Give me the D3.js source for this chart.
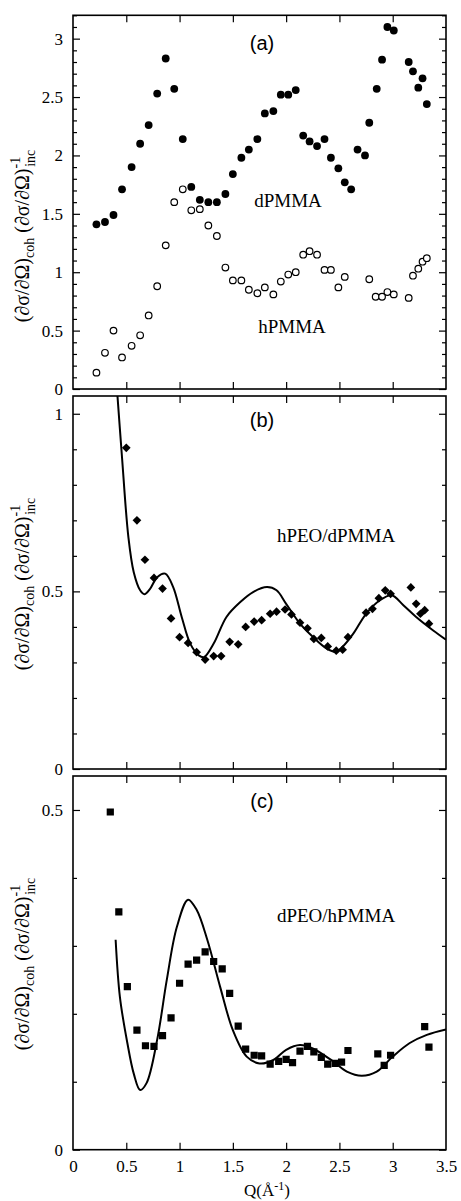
<!DOCTYPE html>
<html lang="en">
<head>
<meta charset="UTF-8">
<title>Scattering ratio panels</title>
<script src="https://d3js.org/d3.v7.min.js"></script>
<style>
    body { margin: 0; background: #fff; }
    svg { display: block; }
    .domain { display: none; }
    .tick line { stroke: #000; stroke-width: 1.2px; }
    .serif { font-family: "Liberation Serif", "DejaVu Serif", serif; }
    .sans { font-family: "Liberation Sans", Arial, sans-serif; }
</style>
</head>
<body>
<svg width="461" height="1201"></svg>
<script>
// panel (a): dPMMA (filled) and hPMMA (open)
const qD = [0.22,0.30,0.38,0.46,0.55,0.63,0.71,0.79,0.87,0.95,1.03,1.11,1.19,1.27,1.35,1.43,1.50,1.58,1.65,1.73,1.80,1.88,1.95,2.02,2.09,2.16,2.22,2.29,2.36,2.42,2.49,2.55,2.61,2.67,2.74,2.78,2.85,2.90,2.95,3.01,3.15,3.19,3.24,3.28,3.32];
const dPMMA = [1.41,1.43,1.49,1.71,1.90,2.10,2.26,2.53,2.83,2.57,2.14,1.73,1.62,1.60,1.60,1.67,1.84,1.98,2.05,2.14,2.36,2.38,2.52,2.52,2.56,2.17,2.12,2.08,2.14,1.98,1.89,1.77,1.71,2.05,2.00,2.28,2.57,2.82,3.10,3.07,2.80,2.72,2.58,2.66,2.44];
const qH = [0.22,0.30,0.38,0.46,0.55,0.63,0.71,0.79,0.87,0.95,1.03,1.11,1.19,1.27,1.35,1.43,1.50,1.58,1.65,1.73,1.80,1.88,1.95,2.02,2.09,2.16,2.22,2.29,2.36,2.42,2.49,2.55,2.78,2.84,2.90,2.95,3.01,3.15,3.19,3.24,3.28,3.32];
const hPMMA = [0.14,0.31,0.50,0.27,0.37,0.46,0.63,0.88,1.23,1.60,1.71,1.53,1.54,1.40,1.31,1.04,0.93,0.93,0.85,0.82,0.87,0.81,0.92,0.98,1.00,1.15,1.18,1.15,1.02,1.02,0.87,0.96,0.94,0.79,0.79,0.83,0.81,0.78,0.97,1.03,1.09,1.12];

// panel (b): hPEO/dPMMA
const qB = [0.50,0.60,0.675,0.76,0.84,0.92,1.00,1.08,1.16,1.24,1.32,1.39,1.47,1.55,1.62,1.70,1.77,1.85,1.91,1.99,2.05,2.13,2.20,2.26,2.33,2.39,2.47,2.53,2.58,2.75,2.81,2.87,2.93,2.98,3.17,3.22,3.26,3.30,3.34];
const hPEO = [0.904,0.70,0.589,0.538,0.508,0.424,0.371,0.355,0.329,0.308,0.318,0.318,0.358,0.351,0.40,0.415,0.419,0.437,0.443,0.449,0.435,0.412,0.396,0.366,0.369,0.345,0.333,0.336,0.371,0.44,0.451,0.481,0.503,0.493,0.511,0.465,0.437,0.447,0.409];
const qBfit = [0.41,0.46,0.52,0.57,0.63,0.67,0.725,0.79,0.865,0.94,1.02,1.10,1.18,1.23,1.32,1.44,1.57,1.69,1.82,1.91,2.00,2.13,2.25,2.38,2.47,2.53,2.63,2.75,2.88,2.99,3.10,3.22,3.38,3.50];
const hPEOfit = [1.08,0.877,0.652,0.554,0.503,0.492,0.508,0.54,0.55,0.512,0.428,0.353,0.32,0.315,0.353,0.428,0.47,0.498,0.512,0.503,0.465,0.409,0.372,0.339,0.33,0.344,0.381,0.437,0.475,0.489,0.461,0.428,0.39,0.364];

// panel (c): dPEO/hPMMA
const qC = [0.35,0.43,0.51,0.60,0.68,0.76,0.84,0.92,1.00,1.08,1.16,1.24,1.32,1.40,1.47,1.55,1.62,1.70,1.77,1.85,1.93,2.00,2.06,2.13,2.20,2.26,2.33,2.39,2.46,2.52,2.58,2.86,2.92,2.98,3.30,3.34];
const dPEO = [0.497,0.350,0.240,0.176,0.153,0.152,0.168,0.194,0.245,0.273,0.279,0.291,0.277,0.266,0.230,0.182,0.148,0.139,0.138,0.126,0.130,0.133,0.128,0.145,0.152,0.144,0.136,0.126,0.127,0.129,0.146,0.141,0.124,0.139,0.181,0.151];
const qCfit = [0.40,0.44,0.51,0.57,0.63,0.69,0.79,0.88,0.975,1.08,1.16,1.26,1.38,1.50,1.63,1.75,1.88,2.00,2.13,2.25,2.44,2.57,2.71,2.85,3.00,3.16,3.32,3.50];
const dPEOfit = [0.309,0.225,0.157,0.112,0.088,0.098,0.162,0.25,0.328,0.368,0.353,0.309,0.24,0.176,0.137,0.127,0.132,0.147,0.154,0.149,0.130,0.115,0.109,0.115,0.137,0.157,0.169,0.177];

const xTicks = [0.5,1,1.5,2,2.5,3];
const xLabels = [0,0.5,1,1.5,2,2.5,3,3.5];

const serif = '"Liberation Serif", "DejaVu Serif", serif';
const svg = d3.select("svg");
const x = d3.scaleLinear().domain([0, 3.5]).range([73, 446]);

const panels = [
    {id: "a", top: 15.3, bottom: 389, ymax: 3.2, major: d3.range(0, 3.01, 0.5), tag: "(a)", tagY: 50, labelY: 236},
    {id: "b", top: 396, bottom: 769, ymax: 1.05, major: [0, 0.5, 1], tag: "(b)", tagY: 427, labelY: 584},
    {id: "c", top: 776, bottom: 1149.7, ymax: 0.55, major: [0, 0.5], tag: "(c)", tagY: 808, labelY: 964}
];

panels.forEach(p => {
    p.y = d3.scaleLinear().domain([0, p.ymax]).range([p.bottom, p.top]);
    const g = svg.append("g");
    const minor = d3.range(0, p.ymax + 1e-9, 0.1).filter(v => !p.major.some(m => Math.abs(m - v) < 1e-6));

    // y ticks, left and right, pointing inward
    g.append("g").attr("transform", "translate(73,0)")
        .call(d3.axisLeft(p.y).tickValues(p.major).tickSize(-7).tickPadding(10).tickFormat(d3.format("~g")))
        .attr("font-family", serif).attr("font-size", 17);
    g.append("g").attr("transform", "translate(73,0)")
        .call(d3.axisLeft(p.y).tickValues(minor).tickSize(-4).tickFormat(""));
    g.append("g").attr("transform", "translate(446,0)")
        .call(d3.axisRight(p.y).tickValues(p.major).tickSize(-7).tickFormat(""));
    g.append("g").attr("transform", "translate(446,0)")
        .call(d3.axisRight(p.y).tickValues(minor).tickSize(-4).tickFormat(""));

    // x ticks top and bottom
    g.append("g").attr("transform", `translate(0,${p.top})`)
        .call(d3.axisTop(x).tickValues(xTicks).tickSize(-7).tickFormat(""));
    g.append("g").attr("transform", `translate(0,${p.bottom})`)
        .call(d3.axisBottom(x).tickValues(xTicks).tickSize(-7).tickFormat(""));

    svg.append("clipPath").attr("id", "clip-" + p.id)
        .append("rect").attr("x", 73).attr("y", p.top).attr("width", 373).attr("height", p.bottom - p.top);

    g.append("rect")
        .attr("x", 73).attr("y", p.top).attr("width", 373).attr("height", p.bottom - p.top)
        .attr("fill", "none").attr("stroke", "#000").attr("stroke-width", 1.6);

    g.append("text").attr("class", "sans")
        .attr("x", 262).attr("y", p.tagY).attr("text-anchor", "middle")
        .attr("font-size", 20).text(p.tag);

    // rotated y-axis label
    const lab = g.append("text").attr("class", "serif")
        .attr("transform", `translate(29,${p.labelY}) rotate(-90)`)
        .attr("text-anchor", "middle").attr("font-size", 20);
    lab.append("tspan").text("(∂σ/∂Ω)");
    lab.append("tspan").attr("font-size", 14).attr("dy", 5).text("coh");
    lab.append("tspan").attr("dy", -5).text(" (∂σ/∂Ω)");
    lab.append("tspan").attr("font-size", 14).attr("dy", -9).text("-1");
    lab.append("tspan").attr("font-size", 14).attr("dx", -10).attr("dy", 15).text("inc");
});

// x-axis labels on the bottom panel only
const pc = panels[2];
svg.append("g").attr("transform", `translate(0,${pc.bottom})`)
    .call(d3.axisBottom(x).tickValues(xLabels).tickSize(0).tickPadding(10).tickFormat(d3.format("~g")))
    .attr("font-family", serif).attr("font-size", 17);

const xt = svg.append("text").attr("class", "serif")
    .attr("x", 267).attr("y", 1196).attr("text-anchor", "middle").attr("font-size", 17);
xt.append("tspan").text("Q(Å");
xt.append("tspan").attr("font-size", 12).attr("dy", -6).text("-1");
xt.append("tspan").attr("dy", 6).text(")");

// panel (a) marks
const ya = panels[0].y;
const ga = svg.append("g").attr("clip-path", "url(#clip-a)");
ga.selectAll(".dp").data(d3.zip(qD, dPMMA)).enter().append("circle")
    .attr("cx", d => x(d[0])).attr("cy", d => ya(d[1])).attr("r", 3.9).attr("fill", "#000");
ga.selectAll(".hp").data(d3.zip(qH, hPMMA)).enter().append("circle")
    .attr("cx", d => x(d[0])).attr("cy", d => ya(d[1])).attr("r", 3.3)
    .attr("fill", "#fff").attr("stroke", "#000").attr("stroke-width", 1.2);
svg.append("text").attr("class", "serif").attr("x", 288).attr("y", 207)
    .attr("text-anchor", "middle").attr("font-size", 19).text("dPMMA");
svg.append("text").attr("class", "serif").attr("x", 292).attr("y", 333)
    .attr("text-anchor", "middle").attr("font-size", 19).text("hPMMA");

// panel (b) marks
const yb = panels[1].y;
const line = ys => d3.line().x(d => x(d[0])).y(d => ys(d[1])).curve(d3.curveCatmullRom.alpha(0.5));
const gb = svg.append("g").attr("clip-path", "url(#clip-b)");
gb.append("path").datum(d3.zip(qBfit, hPEOfit))
    .attr("d", line(yb)).attr("fill", "none").attr("stroke", "#000").attr("stroke-width", 2);
gb.selectAll(".dm").data(d3.zip(qB, hPEO)).enter().append("path")
    .attr("d", d3.symbol(d3.symbolSquare, 38)())
    .attr("transform", d => `translate(${x(d[0])},${yb(d[1])}) rotate(45)`)
    .attr("fill", "#000");
svg.append("text").attr("class", "serif").attr("x", 336).attr("y", 542)
    .attr("text-anchor", "middle").attr("font-size", 19).text("hPEO/dPMMA");

// panel (c) marks
const yc = panels[2].y;
const gc = svg.append("g").attr("clip-path", "url(#clip-c)");
gc.append("path").datum(d3.zip(qCfit, dPEOfit))
    .attr("d", line(yc)).attr("fill", "none").attr("stroke", "#000").attr("stroke-width", 2);
gc.selectAll(".sq").data(d3.zip(qC, dPEO)).enter().append("path")
    .attr("d", d3.symbol(d3.symbolSquare, 52)())
    .attr("transform", d => `translate(${x(d[0])},${yc(d[1])})`)
    .attr("fill", "#000");
svg.append("text").attr("class", "serif").attr("x", 336).attr("y", 922)
    .attr("text-anchor", "middle").attr("font-size", 19).text("dPEO/hPMMA");
</script>
</body>
</html>
